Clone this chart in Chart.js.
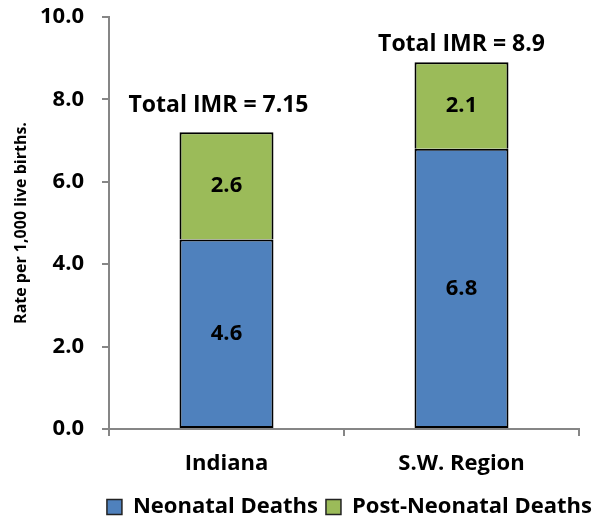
<!DOCTYPE html>
<html>
<head>
<meta charset="utf-8">
<script src="https://cdn.jsdelivr.net/npm/chart.js@4/dist/chart.umd.min.js"></script>
<style>
    html, body { margin: 0; padding: 0; background: #fff; }
    #wrap { width: 600px; height: 517px; }
</style>
</head>
<body>
<div id="wrap"><canvas id="chart"></canvas></div>
<script>
const regions = ["Indiana", "S.W. Region"];
const neonatal = [4.6, 6.8];
const postNeonatal = [2.6, 2.1];
const totalImr = ["7.15", "8.9"];
const yTicks = [0, 2, 4, 6, 8, 10];

const fontFamily = "'Open Sans', Lato, sans-serif";
const axisGrey = '#868686';

// draws the segment values and the "Total IMR" text over the bars
const barLabels = {
    id: 'barLabels',
    afterDatasetsDraw(chart) {
        const ctx = chart.ctx;
        ctx.save();
        ctx.fillStyle = '#000';
        ctx.textAlign = 'center';
        ctx.textBaseline = 'middle';
        ctx.font = 'bold 22px ' + fontFamily;

        chart.data.datasets.forEach((ds, i) => {
            chart.getDatasetMeta(i).data.forEach((bar, j) => {
                const mid = (bar.y + bar.base) / 2;
                ctx.fillText(ds.data[j].toFixed(1), bar.x, mid);
            });
        });

        // the Indiana caption sits a bit left and higher in the original
        const topMeta = chart.getDatasetMeta(chart.data.datasets.length - 1);
        const dx = [-8, 0];
        const dy = [-27, -18];
        ctx.font = 'bold 23px ' + fontFamily;
        topMeta.data.forEach((bar, j) => {
            ctx.fillText('Total IMR = ' + totalImr[j], bar.x + dx[j], bar.y + dy[j]);
        });
        ctx.restore();
    }
};

new Chart(document.getElementById('chart'), {
    type: 'bar',
    data: {
        labels: regions,
        datasets: [
            {
                label: 'Neonatal Deaths',
                data: neonatal,
                backgroundColor: '#4F81BD',
                borderColor: '#000',
                borderWidth: 2,
                borderSkipped: false,
                barPercentage: 0.4,
                categoryPercentage: 1.0
            },
            {
                label: 'Post-Neonatal Deaths',
                data: postNeonatal,
                backgroundColor: '#9BBB59',
                borderColor: '#000',
                borderWidth: 2,
                borderSkipped: 'bottom',
                barPercentage: 0.4,
                categoryPercentage: 1.0
            }
        ]
    },
    options: {
        responsive: true,
        maintainAspectRatio: false,
        animation: false,
        layout: { padding: { top: 17, right: 0, left: 0, bottom: -11 } },
        plugins: {
            tooltip: { enabled: false },
            legend: {
                position: 'bottom',
                align: 'end',
                labels: {
                    color: '#000',
                    font: { family: fontFamily, size: 22, weight: 'bold' },
                    boxWidth: 15,
                    boxHeight: 15,
                    padding: 8,
                    generateLabels(chart) {
                        return chart.data.datasets.map((ds, i) => ({
                            text: ds.label,
                            fillStyle: ds.backgroundColor,
                            strokeStyle: '#222',
                            lineWidth: 1.5,
                            datasetIndex: i
                        }));
                    }
                }
            }
        },
        scales: {
            x: {
                stacked: true,
                grid: {
                    display: true,
                    drawOnChartArea: false,
                    tickLength: 7,
                    color: axisGrey,
                    lineWidth: 2
                },
                border: { color: axisGrey, width: 2 },
                ticks: {
                    color: '#000',
                    padding: 15,
                    font: { family: fontFamily, size: 22, weight: 'bold' }
                },
                afterFit(scale) {
                    scale.height = 59;
                    scale.paddingRight = 21;
                }
            },
            y: {
                stacked: true,
                min: 0,
                max: 10,
                afterBuildTicks(scale) {
                    scale.ticks = yTicks.map(v => ({ value: v }));
                },
                grid: {
                    display: true,
                    drawOnChartArea: false,
                    tickLength: 7,
                    color: axisGrey,
                    lineWidth: 2
                },
                border: { color: axisGrey, width: 2 },
                ticks: {
                    color: '#000',
                    padding: 18,
                    font: { family: fontFamily, size: 22, weight: 'bold' },
                    callback: v => v.toFixed(1)
                },
                title: {
                    display: true,
                    text: 'Rate per 1,000 live births.',
                    color: '#000',
                    padding: { top: 12, bottom: 4 },
                    font: { family: fontFamily, size: 16, weight: 'bold' }
                },
                afterFit(scale) {
                    scale.width = 109;
                    scale.paddingTop = 0;
                }
            }
        }
    },
    plugins: [barLabels]
});
</script>
</body>
</html>
